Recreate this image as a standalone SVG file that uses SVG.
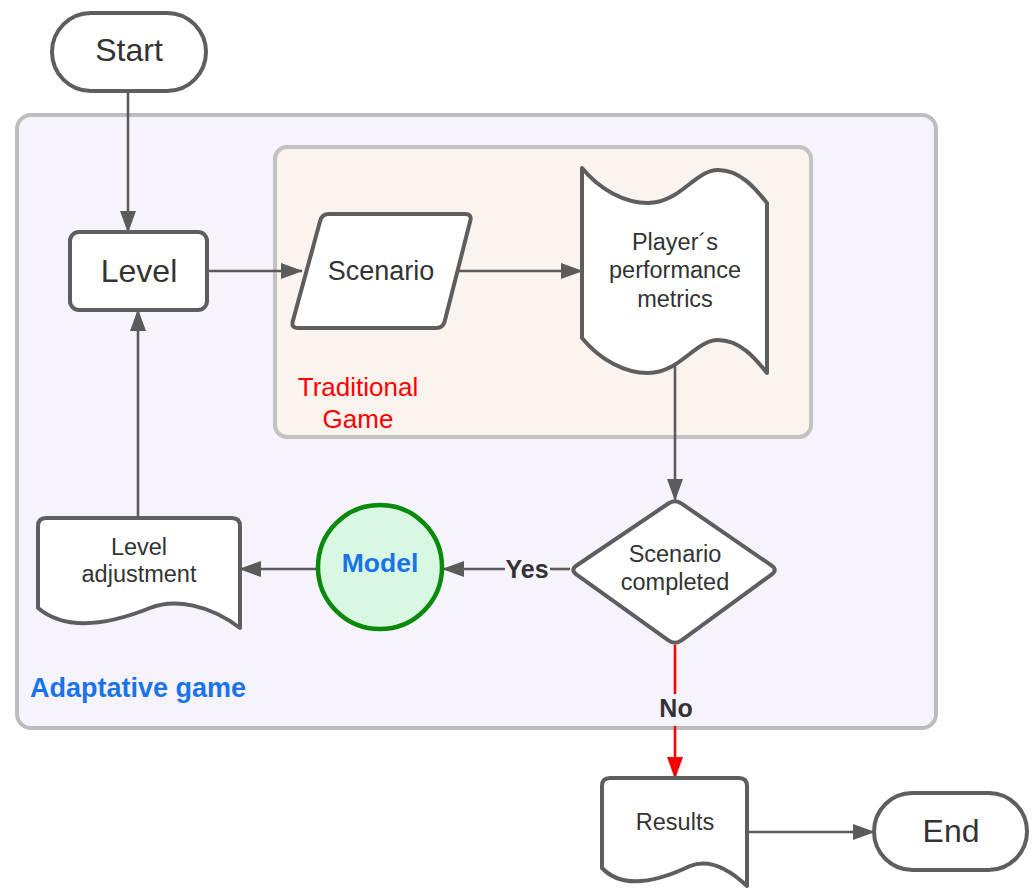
<svg xmlns="http://www.w3.org/2000/svg" width="1035" height="889" viewBox="0 0 1035 889">
  <style>
    .node { fill: #ffffff; stroke: #5e5e5e; stroke-width: 4; stroke-linejoin: round; }
    .txt { font-family: "Liberation Sans", Arial, sans-serif; fill: #333333; text-anchor: middle; }
    .conn { fill: none; stroke: #5b5b5b; stroke-width: 2.6; }
    .conn-red { fill: none; stroke: #ff0000; stroke-width: 2.6; }
    .label { font-family: "Liberation Sans", Arial, sans-serif; font-weight: bold; fill: #333333; text-anchor: middle; font-size: 25px; }
  </style>
  <defs>
    <marker id="arrow" viewBox="0 0 22 16" refX="21" refY="8" markerWidth="22" markerHeight="16" orient="auto" markerUnits="userSpaceOnUse">
      <path d="M0,0 L22,8 L0,16 z" fill="#5b5b5b"/>
    </marker>
    <marker id="arrow-red" viewBox="0 0 22 16" refX="21" refY="8" markerWidth="22" markerHeight="16" orient="auto" markerUnits="userSpaceOnUse">
      <path d="M0,0 L22,8 L0,16 z" fill="#ff0000"/>
    </marker>
  </defs>

  <rect width="1035" height="889" fill="#ffffff"/>

  <!-- containers -->
  <g id="adaptative-game">
    <rect x="17" y="115" width="919" height="613" rx="14" fill="#f7f3fd" stroke="#bdbdbd" stroke-width="4"/>
    <text x="30" y="697" font-family="'Liberation Sans', Arial, sans-serif" font-weight="bold" font-size="27" fill="#1a73e8">Adaptative game</text>
  </g>
  <g id="traditional-game">
    <rect x="275" y="147" width="536" height="290" rx="12" fill="#fbf3ee" stroke="#c2c2c2" stroke-width="4"/>
    <text class="txt" x="358" y="396" font-size="26" style="fill:#ff0000">Traditional</text>
    <text class="txt" x="358" y="428" font-size="26" style="fill:#ff0000">Game</text>
  </g>

  <!-- connectors -->
  <g id="connectors">
    <line class="conn" x1="128" y1="91" x2="128" y2="232" marker-end="url(#arrow)"/>
    <line class="conn" x1="207" y1="271" x2="302" y2="271" marker-end="url(#arrow)"/>
    <line class="conn" x1="457" y1="271" x2="582" y2="271" marker-end="url(#arrow)"/>
    <line class="conn" x1="675" y1="358" x2="675" y2="500" marker-end="url(#arrow)"/>
    <line class="conn" x1="570" y1="569" x2="550" y2="569"/>
    <line class="conn" x1="505" y1="569" x2="443" y2="569" marker-end="url(#arrow)"/>
    <text class="label" x="527" y="578">Yes</text>
    <line class="conn" x1="318" y1="569" x2="240" y2="569" marker-end="url(#arrow)"/>
    <line class="conn" x1="138" y1="518" x2="138" y2="310" marker-end="url(#arrow)"/>
    <line class="conn-red" x1="675" y1="645" x2="675" y2="694"/>
    <text class="label" x="676" y="717">No</text>
    <line class="conn-red" x1="675" y1="726" x2="675" y2="778" marker-end="url(#arrow-red)"/>
    <line class="conn" x1="747" y1="832" x2="874" y2="832" marker-end="url(#arrow)"/>
  </g>

  <!-- nodes -->
  <g id="start">
    <rect class="node" x="52" y="13" width="154" height="78" rx="39"/>
    <text class="txt" x="129" y="61" font-size="32">Start</text>
  </g>

  <g id="level">
    <rect class="node" x="70" y="232" width="137" height="78" rx="9"/>
    <text class="txt" x="139" y="282" font-size="32">Level</text>
  </g>

  <g id="scenario">
    <path class="node" d="M329,214 L465,214 Q472,214 470.3,220.8 L444.7,321.2 Q443,328 436,328 L298,328 Q291,328 292.8,321.2 L320.2,220.8 Q322,214 329,214 Z"/>
    <text class="txt" x="381" y="280" font-size="27">Scenario</text>
  </g>

  <g id="performance-metrics">
    <path class="node" d="M582,168 C600,190 625,203 648,203 C680,203 695,170 718,170 C740,170 755,188 767,203 L767,373 C755,358 740,340 718,340 C695,340 680,373 648,373 C625,373 600,360 582,338 Z"/>
    <text class="txt" x="675" y="250" font-size="23.5">Player´s</text>
    <text class="txt" x="675" y="278" font-size="23.5">performance</text>
    <text class="txt" x="675" y="307" font-size="23.5">metrics</text>
  </g>

  <g id="scenario-completed">
    <path class="node" d="M681.6,503.6 L771.4,565.4 Q778,570 771.5,574.6 L681.5,640.4 Q675,645 668.4,640.4 L576.6,574.6 Q570,570 576.6,565.5 L668.4,503.5 Q675,499 681.6,503.6 Z"/>
    <text class="txt" x="675" y="562" font-size="23.5">Scenario</text>
    <text class="txt" x="675" y="590" font-size="23.5">completed</text>
  </g>

  <g id="model">
    <circle cx="380" cy="567" r="62" fill="#d8f8e2" stroke="#0a8a0a" stroke-width="4.5"/>
    <text x="380" y="572" text-anchor="middle" font-family="'Liberation Sans', Arial, sans-serif" font-weight="bold" font-size="26.5" fill="#1a73e8">Model</text>
  </g>

  <g id="level-adjustment">
    <path class="node" d="M38,526 Q38,518 46,518 L232,518 Q240,518 240,526 L240,628 C210,605 175,598 150,608 C120,620 70,635 38,608 Z"/>
    <text class="txt" x="139" y="555" font-size="23.5">Level</text>
    <text class="txt" x="139" y="582" font-size="23.5">adjustment</text>
  </g>

  <g id="results">
    <path class="node" d="M602,786 Q602,778 610,778 L739,778 Q747,778 747,786 L747,886 C730,870 710,858 690,866 C665,878 625,892 602,868 Z"/>
    <text class="txt" x="675" y="830" font-size="23.5">Results</text>
  </g>

  <g id="end">
    <rect class="node" x="874" y="793" width="153" height="77" rx="38.5"/>
    <text class="txt" x="951" y="842" font-size="32">End</text>
  </g>
</svg>
